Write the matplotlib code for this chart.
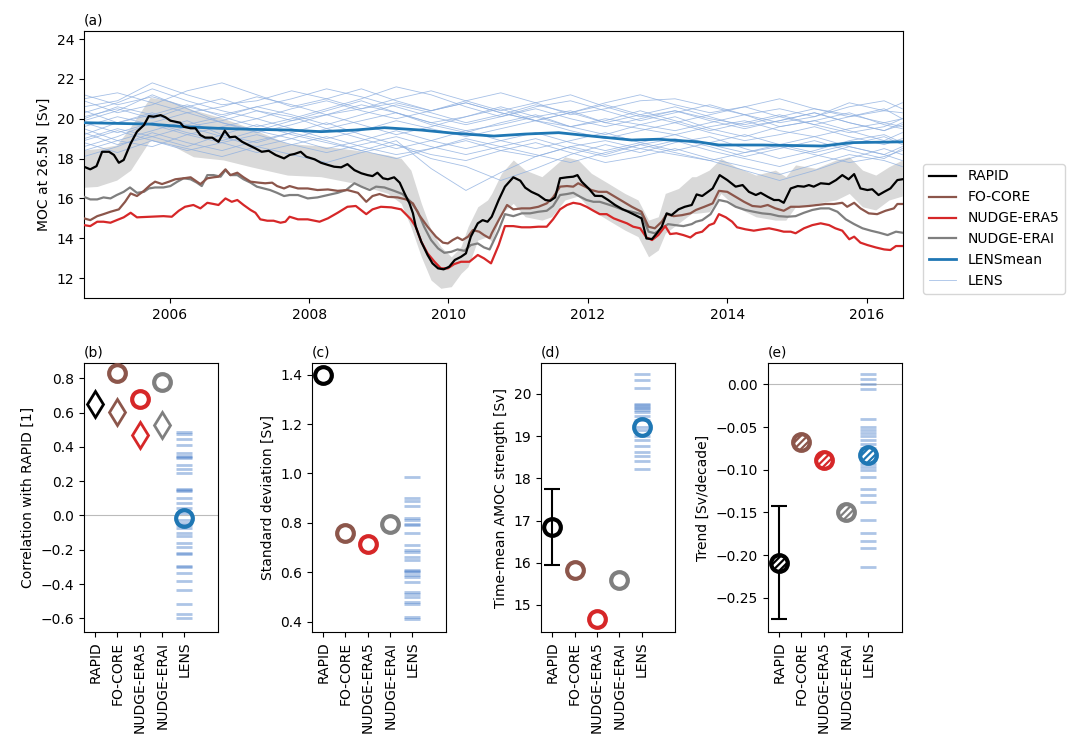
import matplotlib.pyplot as plt

plt.rcParams['font.size'] = 10
plt.rcParams['hatch.linewidth'] = 1.8

# ---------------- (a) time series, decimal years / Sv ----------------
rapid_t = [2004.77, 2004.86, 2004.95, 2005.03, 2005.13, 2005.20, 2005.27, 2005.34, 2005.44, 2005.53,
           2005.63, 2005.70, 2005.77, 2005.87, 2005.94, 2006.01, 2006.08, 2006.15, 2006.20, 2006.30,
           2006.37, 2006.44, 2006.51, 2006.61, 2006.70, 2006.79, 2006.86, 2006.94, 2007.04, 2007.13,
           2007.23, 2007.32, 2007.42, 2007.52, 2007.64, 2007.72, 2007.79, 2007.88, 2007.96, 2008.08,
           2008.17, 2008.27, 2008.36, 2008.46, 2008.55, 2008.65, 2008.75, 2008.84, 2008.91, 2008.98,
           2009.06, 2009.13, 2009.22, 2009.30, 2009.37, 2009.44, 2009.49, 2009.53, 2009.61, 2009.70,
           2009.77, 2009.85, 2009.93, 2010.01, 2010.09, 2010.18, 2010.25, 2010.32, 2010.42, 2010.49,
           2010.56, 2010.62, 2010.72, 2010.81, 2010.93, 2011.03, 2011.10, 2011.19, 2011.29, 2011.39,
           2011.46, 2011.53, 2011.60, 2011.70, 2011.79, 2011.85, 2011.91, 2012.01, 2012.10, 2012.20,
           2012.29, 2012.39, 2012.49, 2012.58, 2012.68, 2012.77, 2012.84, 2012.92, 2012.99, 2013.06,
           2013.13, 2013.20, 2013.30, 2013.39, 2013.49, 2013.56, 2013.64, 2013.79, 2013.89, 2014.00,
           2014.12, 2014.22, 2014.31, 2014.41, 2014.48, 2014.58, 2014.67, 2014.74, 2014.81, 2014.91,
           2015.01, 2015.10, 2015.17, 2015.24, 2015.34, 2015.46, 2015.56, 2015.65, 2015.74, 2015.82,
           2015.91, 2016.01, 2016.08, 2016.17, 2016.25, 2016.34, 2016.44, 2016.51]
rapid_v = [17.59, 17.46, 17.62, 18.34, 18.34, 18.18, 17.79, 17.93, 18.76, 19.35,
           19.68, 20.13, 20.10, 20.18, 20.07, 19.90, 19.85, 19.80, 19.60, 19.52,
           19.52, 19.18, 19.05, 19.05, 18.84, 19.40, 19.07, 19.10, 18.84, 18.68,
           18.51, 18.34, 18.39, 18.18, 18.01, 18.18, 18.23, 18.34, 18.09, 17.96,
           17.79, 17.68, 17.59, 17.56, 17.72, 17.42, 17.26, 17.17, 17.12, 17.29,
           17.01, 16.96, 17.06, 16.79, 16.25, 15.75, 15.25, 14.58, 13.82, 13.16,
           12.74, 12.49, 12.44, 12.57, 12.91, 13.07, 13.24, 14.08, 14.75, 14.91,
           14.83, 15.08, 15.92, 16.59, 17.06, 16.89, 16.54, 16.33, 16.17, 15.92,
           15.88, 16.05, 17.01, 17.06, 17.09, 17.17, 16.84, 16.50, 16.13, 16.12,
           15.92, 15.67, 15.47, 15.33, 15.16, 15.00, 13.99, 13.96, 14.25, 14.58,
           15.25, 15.16, 15.45, 15.58, 15.67, 16.20, 16.12, 16.50, 17.17, 16.92,
           16.59, 16.67, 16.33, 16.17, 16.28, 16.08, 15.92, 15.92, 15.78, 16.50,
           16.62, 16.59, 16.67, 16.59, 16.76, 16.72, 16.92, 17.17, 16.96, 17.22,
           16.50, 16.42, 16.46, 16.17, 16.33, 16.50, 16.92, 16.96]

core_t = [2004.77, 2004.86, 2004.96, 2005.05, 2005.15, 2005.27, 2005.36, 2005.44, 2005.53, 2005.63,
          2005.72, 2005.79, 2005.89, 2005.99, 2006.08, 2006.20, 2006.30, 2006.37, 2006.44, 2006.54,
          2006.63, 2006.70, 2006.80, 2006.87, 2006.97, 2007.06, 2007.16, 2007.28, 2007.37, 2007.47,
          2007.54, 2007.64, 2007.72, 2007.84, 2007.98, 2008.12, 2008.27, 2008.41, 2008.55, 2008.70,
          2008.82, 2008.91, 2009.01, 2009.13, 2009.27, 2009.39, 2009.49, 2009.58, 2009.70, 2009.82,
          2009.92, 2009.99, 2010.06, 2010.13, 2010.20, 2010.28, 2010.35, 2010.44, 2010.51, 2010.59,
          2010.62, 2010.72, 2010.84, 2010.93, 2011.05, 2011.17, 2011.29, 2011.41, 2011.50, 2011.60,
          2011.70, 2011.79, 2011.86, 2011.96, 2012.05, 2012.15, 2012.27, 2012.39, 2012.51, 2012.63,
          2012.77, 2012.87, 2012.96, 2013.06, 2013.13, 2013.23, 2013.35, 2013.47, 2013.55, 2013.67,
          2013.79, 2013.88, 2014.00, 2014.12, 2014.24, 2014.36, 2014.48, 2014.58, 2014.69, 2014.81,
          2014.91, 2015.03, 2015.17, 2015.29, 2015.41, 2015.53, 2015.65, 2015.72, 2015.82, 2015.91,
          2016.03, 2016.15, 2016.27, 2016.39, 2016.44, 2016.51]
core_v = [15.00, 14.91, 15.11, 15.21, 15.33, 15.45, 15.83, 16.25, 16.12, 16.38,
          16.67, 16.84, 16.72, 16.84, 16.96, 17.01, 17.06, 16.89, 16.72, 17.01,
          17.06, 17.09, 17.46, 17.17, 17.29, 17.06, 16.84, 16.79, 16.76, 16.79,
          16.62, 16.50, 16.62, 16.50, 16.50, 16.42, 16.45, 16.38, 16.42, 16.28,
          15.83, 16.12, 16.22, 16.08, 16.05, 15.95, 15.75, 15.16, 14.58, 14.08,
          13.78, 13.74, 13.91, 14.04, 13.91, 14.08, 14.41, 14.33, 14.16, 14.00,
          14.25, 14.91, 15.67, 15.45, 15.50, 15.50, 15.58, 15.75, 16.05, 16.59,
          16.62, 16.59, 16.76, 16.59, 16.42, 16.33, 16.33, 16.08, 15.83, 15.58,
          15.33, 14.58, 14.50, 14.83, 15.21, 15.11, 15.16, 15.25, 15.42, 15.58,
          15.75, 16.38, 16.33, 16.08, 15.83, 15.62, 15.58, 15.67, 15.50, 15.38,
          15.58, 15.58, 15.62, 15.67, 15.72, 15.72, 15.78, 15.58, 15.78, 15.50,
          15.25, 15.21, 15.38, 15.50, 15.72, 15.72]

era5_t = [2004.77, 2004.86, 2004.96, 2005.05, 2005.15, 2005.24, 2005.34, 2005.44, 2005.53, 2005.72,
          2005.91, 2006.03, 2006.13, 2006.22, 2006.34, 2006.44, 2006.54, 2006.63, 2006.70, 2006.80,
          2006.89, 2006.97, 2007.06, 2007.16, 2007.23, 2007.30, 2007.40, 2007.49, 2007.59, 2007.66,
          2007.72, 2007.84, 2007.98, 2008.15, 2008.27, 2008.41, 2008.55, 2008.67, 2008.82, 2008.91,
          2009.03, 2009.18, 2009.32, 2009.46, 2009.53, 2009.61, 2009.70, 2009.80, 2009.89, 2009.99,
          2010.08, 2010.18, 2010.30, 2010.42, 2010.51, 2010.61, 2010.72, 2010.81, 2010.93, 2011.05,
          2011.17, 2011.29, 2011.41, 2011.50, 2011.60, 2011.70, 2011.79, 2011.89, 2011.98, 2012.08,
          2012.17, 2012.27, 2012.37, 2012.46, 2012.56, 2012.65, 2012.75, 2012.84, 2012.92, 2013.01,
          2013.11, 2013.18, 2013.27, 2013.37, 2013.47, 2013.55, 2013.64, 2013.74, 2013.81, 2013.88,
          2013.98, 2014.07, 2014.14, 2014.26, 2014.38, 2014.50, 2014.60, 2014.72, 2014.81, 2014.91,
          2014.98, 2015.10, 2015.22, 2015.34, 2015.46, 2015.55, 2015.65, 2015.75, 2015.82, 2015.91,
          2016.01, 2016.13, 2016.25, 2016.34, 2016.42, 2016.51]
era5_v = [14.66, 14.61, 14.83, 14.83, 14.78, 14.91, 15.05, 15.28, 15.05, 15.08,
          15.11, 15.08, 15.38, 15.58, 15.67, 15.50, 15.78, 15.72, 15.67, 16.00,
          15.83, 15.92, 15.67, 15.42, 15.28, 14.95, 14.88, 14.88, 14.78, 14.83,
          15.08, 14.95, 14.95, 14.83, 15.00, 15.28, 15.58, 15.62, 15.21, 15.45,
          15.58, 15.55, 15.45, 14.95, 14.58, 13.82, 13.24, 12.82, 12.49, 12.49,
          12.70, 12.82, 12.82, 13.16, 12.99, 12.74, 13.66, 14.61, 14.61, 14.55,
          14.55, 14.58, 14.58, 14.95, 15.45, 15.67, 15.78, 15.72, 15.58, 15.38,
          15.21, 15.21, 15.00, 14.88, 14.75, 14.58, 14.50, 14.04, 13.91, 14.16,
          14.61, 14.21, 14.25, 14.16, 14.04, 14.25, 14.33, 14.66, 14.75, 15.21,
          15.05, 14.83, 14.55, 14.45, 14.38, 14.45, 14.50, 14.41, 14.33, 14.33,
          14.25, 14.50, 14.66, 14.75, 14.66, 14.50, 14.38, 13.95, 14.08, 13.78,
          13.66, 13.54, 13.44, 13.41, 13.61, 13.61]

erai_t = [2004.77, 2004.86, 2004.96, 2005.05, 2005.15, 2005.24, 2005.34, 2005.43, 2005.53, 2005.63,
          2005.70, 2005.79, 2005.91, 2006.01, 2006.11, 2006.20, 2006.30, 2006.39, 2006.46, 2006.54,
          2006.63, 2006.73, 2006.80, 2006.87, 2006.97, 2007.06, 2007.16, 2007.25, 2007.35, 2007.44,
          2007.54, 2007.64, 2007.72, 2007.84, 2007.98, 2008.12, 2008.27, 2008.41, 2008.53, 2008.65,
          2008.75, 2008.87, 2008.96, 2009.08, 2009.22, 2009.34, 2009.46, 2009.56, 2009.65, 2009.75,
          2009.85, 2009.94, 2010.04, 2010.13, 2010.23, 2010.32, 2010.42, 2010.51, 2010.59, 2010.62,
          2010.72, 2010.81, 2010.93, 2011.05, 2011.17, 2011.29, 2011.41, 2011.50, 2011.60, 2011.70,
          2011.79, 2011.89, 2011.98, 2012.08, 2012.17, 2012.27, 2012.39, 2012.51, 2012.63, 2012.77,
          2012.87, 2012.96, 2013.06, 2013.15, 2013.25, 2013.37, 2013.49, 2013.55, 2013.64, 2013.76,
          2013.88, 2014.00, 2014.12, 2014.26, 2014.38, 2014.50, 2014.62, 2014.74, 2014.86, 2014.98,
          2015.10, 2015.22, 2015.34, 2015.46, 2015.58, 2015.70, 2015.82, 2015.94, 2016.06, 2016.18,
          2016.30, 2016.42, 2016.51]
erai_v = [16.08, 15.95, 15.95, 16.05, 16.00, 16.17, 16.33, 16.55, 16.28, 16.33,
          16.50, 16.55, 16.55, 16.62, 16.84, 17.01, 16.96, 16.79, 16.62, 17.17,
          17.17, 17.09, 17.42, 17.17, 17.17, 16.96, 16.79, 16.59, 16.50, 16.42,
          16.28, 16.12, 16.17, 16.17, 16.00, 16.05, 16.17, 16.28, 16.42, 16.76,
          16.59, 16.42, 16.59, 16.55, 16.38, 16.22, 15.83, 15.33, 14.58, 13.91,
          13.49, 13.27, 13.32, 13.44, 13.37, 13.66, 13.74, 13.54, 13.44, 13.66,
          14.41, 15.21, 15.11, 15.25, 15.25, 15.33, 15.38, 15.62, 16.17, 16.22,
          16.28, 16.08, 15.92, 15.83, 15.83, 15.72, 15.58, 15.42, 15.33, 15.21,
          14.33, 14.25, 14.50, 14.71, 14.66, 14.61, 14.71, 14.83, 14.91, 15.21,
          15.92, 15.83, 15.58, 15.42, 15.33, 15.25, 15.21, 15.11, 15.08, 15.11,
          15.28, 15.42, 15.50, 15.50, 15.33, 14.95, 14.71, 14.50, 14.38, 14.28,
          14.16, 14.33, 14.28]

# RAPID uncertainty envelope
band_t = [2004.77, 2004.96, 2005.24, 2005.44, 2005.72, 2006.01, 2006.34, 2006.77, 2007.16, 2007.69,
          2008.17, 2008.65, 2009.13, 2009.32, 2009.46, 2009.61, 2009.75, 2009.89, 2010.04, 2010.18,
          2010.28, 2010.42, 2010.56, 2010.62, 2010.76, 2010.93, 2011.10, 2011.34, 2011.48, 2011.67,
          2011.86, 2012.05, 2012.29, 2012.53, 2012.72, 2012.87, 2013.01, 2013.11, 2013.30, 2013.49,
          2013.55, 2013.74, 2013.91, 2014.12, 2014.41, 2014.69, 2014.84, 2014.98, 2015.27, 2015.56,
          2015.75, 2015.94, 2016.13, 2016.32, 2016.51]
band_hi = [18.43, 18.50, 18.68, 19.60, 21.07, 20.90, 20.44, 20.02, 19.52, 18.76,
           18.63, 18.43, 18.18, 18.01, 17.42, 15.75, 14.41, 13.58, 13.07, 13.58,
           14.58, 15.58, 15.92, 16.25, 17.26, 17.93, 17.42, 17.09, 17.51, 18.09,
           17.93, 17.26, 16.76, 16.25, 15.92, 14.91, 15.08, 16.25, 16.50, 17.09,
           17.09, 17.42, 18.01, 17.59, 17.17, 17.42, 17.09, 17.68, 17.51, 17.93,
           18.09, 17.42, 17.17, 17.59, 17.93]
band_lo = [16.56, 16.60, 16.92, 17.42, 18.93, 18.70, 18.09, 17.93, 17.59, 17.17,
           17.09, 16.76, 16.25, 15.75, 14.58, 13.07, 11.90, 11.49, 11.57, 12.24,
           12.57, 13.91, 14.08, 13.82, 15.25, 15.75, 15.08, 14.91, 15.08, 15.92,
           16.12, 15.42, 14.91, 14.41, 14.08, 13.07, 13.41, 14.25, 14.75, 15.25,
           15.25, 15.33, 16.25, 15.58, 15.08, 14.91, 14.91, 15.58, 15.75, 15.92,
           16.25, 15.58, 15.42, 15.92, 16.12]

lensmean_t = [2004.77, 2005.72, 2006.20, 2006.68, 2007.16, 2007.72, 2008.17, 2008.65, 2009.08, 2009.61,
              2010.08, 2010.65, 2011.10, 2011.58, 2012.05, 2012.63, 2013.01, 2013.58, 2013.88, 2014.50,
              2015.36, 2015.79, 2016.51]
lensmean_v = [19.80, 19.73, 19.60, 19.52, 19.47, 19.43, 19.35, 19.43, 19.55, 19.43,
              19.27, 19.13, 19.23, 19.30, 19.13, 18.93, 18.97, 18.84, 18.68, 18.68,
              18.63, 18.80, 18.84]

# individual LENS members (approximate, half-yearly)
lens_t = [2004.77, 2005.25, 2005.75, 2006.25, 2006.75, 2007.25, 2007.75, 2008.25, 2008.75, 2009.25,
          2009.75, 2010.25, 2010.75, 2011.25, 2011.75, 2012.25, 2012.75, 2013.25, 2013.75, 2014.25,
          2014.75, 2015.25, 2015.75, 2016.25, 2016.51]
lens_runs = [
    [20.6, 20.9, 21.8, 21.2, 20.7, 20.9, 21.4, 21.0, 20.5, 20.8, 20.4, 20.9, 21.3, 20.8, 20.2, 20.5, 20.9, 21.0, 20.6, 20.2, 20.5, 20.1, 20.8, 20.4, 20.3],
    [19.2, 19.8, 20.3, 19.6, 19.9, 20.4, 20.1, 19.5, 19.9, 20.3, 19.8, 19.4, 19.7, 20.1, 20.4, 19.8, 19.5, 19.2, 19.6, 19.9, 19.4, 19.1, 19.5, 19.8, 19.6],
    [18.4, 18.9, 18.6, 19.2, 18.8, 18.3, 18.7, 19.1, 18.6, 18.2, 18.5, 18.9, 18.4, 18.1, 18.6, 18.9, 18.5, 18.2, 17.9, 18.3, 18.6, 18.2, 17.8, 18.1, 18.4],
    [20.1, 20.5, 20.0, 20.6, 21.0, 20.4, 19.9, 20.2, 20.7, 20.3, 19.8, 20.1, 20.5, 19.9, 19.6, 20.0, 19.7, 19.4, 19.8, 20.2, 19.6, 19.9, 20.3, 19.7, 19.5],
    [19.5, 18.9, 19.4, 19.9, 19.2, 18.8, 19.3, 19.8, 19.2, 18.7, 18.0, 17.6, 16.9, 17.5, 18.2, 18.7, 18.3, 18.8, 19.1, 18.5, 18.0, 18.4, 18.9, 19.2, 18.8],
    [21.0, 21.3, 20.8, 20.3, 20.6, 21.1, 20.7, 20.2, 20.5, 21.0, 21.4, 20.9, 20.4, 20.8, 21.2, 20.6, 20.1, 20.4, 20.0, 19.7, 20.1, 20.5, 20.2, 19.8, 20.0],
    [18.8, 18.3, 18.9, 18.5, 18.1, 18.6, 18.2, 17.8, 18.3, 18.7, 18.2, 17.9, 18.4, 18.8, 18.3, 17.8, 18.1, 18.5, 18.0, 17.6, 17.2, 17.7, 18.2, 17.9, 17.6],
    [19.9, 20.4, 21.2, 20.5, 19.8, 19.4, 19.9, 20.4, 20.9, 20.3, 19.7, 19.3, 19.8, 20.2, 19.6, 19.2, 19.7, 20.1, 19.5, 19.1, 19.6, 19.9, 19.4, 18.9, 19.3],
    [19.0, 19.5, 19.1, 18.6, 19.2, 19.7, 19.2, 18.8, 18.4, 18.9, 17.5, 16.4, 17.3, 18.1, 18.6, 18.2, 18.7, 19.0, 18.6, 18.1, 18.5, 18.9, 18.4, 18.0, 18.5],
    [20.4, 19.8, 20.2, 20.7, 20.1, 19.6, 20.0, 20.5, 21.0, 21.6, 21.2, 20.6, 20.1, 20.6, 20.9, 20.4, 19.9, 20.3, 20.7, 20.2, 19.8, 20.1, 20.6, 20.9, 20.5],
    [18.1, 18.6, 19.3, 18.8, 18.4, 18.9, 19.3, 18.9, 18.4, 18.0, 18.5, 19.0, 18.6, 18.2, 17.8, 18.3, 18.7, 18.3, 17.9, 17.4, 16.9, 17.4, 18.0, 18.5, 18.2],
    [20.9, 20.3, 20.7, 21.4, 21.8, 21.2, 20.6, 21.0, 21.5, 20.9, 20.4, 20.8, 20.3, 19.9, 20.3, 20.8, 21.2, 20.7, 20.3, 20.6, 21.0, 20.5, 20.1, 20.4, 20.8],
    [19.6, 20.1, 19.7, 19.2, 19.6, 20.0, 19.5, 19.0, 19.4, 19.9, 19.5, 19.1, 19.5, 19.9, 19.4, 19.0, 19.4, 19.8, 19.3, 18.9, 19.2, 19.6, 19.1, 18.7, 19.0],
    [18.6, 19.1, 19.8, 19.3, 18.9, 19.4, 19.0, 18.5, 18.9, 19.4, 18.9, 18.5, 18.9, 19.3, 18.8, 18.4, 18.8, 19.2, 18.7, 18.3, 18.7, 19.1, 18.6, 18.2, 18.6],
    [20.3, 20.8, 21.5, 20.9, 20.4, 20.0, 20.5, 20.9, 20.4, 20.0, 20.4, 20.8, 20.3, 19.9, 20.3, 20.7, 20.2, 19.8, 20.2, 20.6, 20.1, 19.7, 20.1, 20.5, 20.0],
    [19.3, 18.7, 19.1, 19.6, 19.1, 18.6, 19.0, 19.5, 19.0, 18.5, 18.9, 19.4, 18.9, 18.5, 18.9, 19.3, 18.8, 18.4, 18.8, 19.2, 18.7, 18.3, 18.7, 19.1, 18.7],
    [21.2, 20.7, 21.1, 20.6, 20.2, 20.6, 21.0, 21.5, 21.1, 20.6, 20.1, 19.7, 20.1, 20.5, 20.0, 19.6, 20.0, 20.4, 19.9, 19.5, 19.9, 20.3, 19.8, 19.4, 19.8],
    [18.9, 19.4, 18.9, 18.4, 18.8, 19.2, 18.7, 18.3, 18.7, 19.1, 18.6, 18.2, 18.6, 19.0, 18.5, 18.1, 18.5, 18.9, 18.4, 18.0, 17.6, 18.1, 18.6, 18.2, 17.9],
    [19.8, 19.3, 19.8, 20.3, 19.8, 19.3, 19.7, 20.2, 19.7, 19.2, 19.6, 20.1, 20.6, 20.1, 19.6, 19.9, 20.4, 19.9, 19.4, 19.8, 20.2, 19.7, 19.3, 19.6, 20.0],
    [20.0, 20.6, 20.2, 19.7, 20.1, 20.6, 20.2, 19.7, 20.2, 20.7, 20.3, 19.8, 20.2, 20.7, 20.3, 19.8, 20.2, 20.6, 20.1, 19.6, 19.9, 20.3, 19.8, 19.4, 19.7],
]

# ---------------- (b)-(e) summary statistics ----------------
names = ['RAPID', 'FO-CORE', 'NUDGE-ERA5', 'NUDGE-ERAI', 'LENS']
colors = ['black', 'tab:brown', 'tab:red', 'tab:gray', 'tab:blue']

corr_circle = [0.830, 0.679, 0.780, -0.013]      # FO-CORE .. LENS
corr_diamond = [0.648, 0.604, 0.469, 0.526]      # RAPID .. NUDGE-ERAI
lens_corr = [0.487, 0.473, 0.444, 0.414, 0.365, 0.350, 0.340, 0.336, 0.297, 0.271, 0.248, 0.154,
             0.150, 0.144, 0.101, 0.072, 0.042, 0.017, -0.026, -0.042, -0.056, -0.075, -0.101,
             -0.120, -0.159, -0.183, -0.218, -0.222, -0.297, -0.300, -0.336, -0.383, -0.437,
             -0.516, -0.575, -0.600]

std_vals = [1.40, 0.760, 0.713, 0.795]
lens_std = [0.985, 0.900, 0.890, 0.870, 0.820, 0.810, 0.795, 0.790, 0.760, 0.710, 0.690, 0.680,
            0.660, 0.650, 0.610, 0.605, 0.600, 0.590, 0.580, 0.560, 0.520, 0.510, 0.500, 0.480,
            0.470, 0.420, 0.410]

mean_vals = [16.84, 15.83, 14.66, 15.58, 19.21]
rapid_mean_err = 0.90
lens_avg = [20.47, 20.32, 20.15, 19.76, 19.73, 19.70, 19.66, 19.62, 19.58, 19.48, 19.38, 19.21,
            19.15, 18.99, 18.91, 18.77, 18.63, 18.52, 18.42, 18.21]

trend_vals = [-0.209, -0.067, -0.089, -0.150, -0.083]
rapid_trend_err = 0.066
lens_trend = [0.012, 0.006, 0.000, -0.006, -0.041, -0.050, -0.054, -0.057, -0.061, -0.065, -0.070,
              -0.074, -0.079, -0.087, -0.093, -0.097, -0.100, -0.108, -0.122, -0.130, -0.138,
              -0.159, -0.174, -0.184, -0.192, -0.214]

fig = plt.figure(figsize=(10.78, 7.41), dpi=100)

# (a)
ax = fig.add_axes([0.0779, 0.5978, 0.7597, 0.3603])
ax.fill_between(band_t, band_lo, band_hi, color='#d9d9d9', lw=0, zorder=1)
for k, run in enumerate(lens_runs):
    h_lens, = ax.plot(lens_t, run, color='#8fb0e0', lw=0.6, alpha=0.8, zorder=2,
                      label='LENS' if k == 0 else None)
h_mean, = ax.plot(lensmean_t, lensmean_v, color='tab:blue', lw=2, zorder=3)
h_erai, = ax.plot(erai_t, erai_v, color='tab:gray', lw=1.6, zorder=4)
h_era5, = ax.plot(era5_t, era5_v, color='tab:red', lw=1.6, zorder=4)
h_core, = ax.plot(core_t, core_v, color='tab:brown', lw=1.6, zorder=4)
h_rapid, = ax.plot(rapid_t, rapid_v, color='black', lw=1.6, zorder=5)
ax.set_xlim(2004.77, 2016.52)
ax.set_ylim(11, 24.4)
ax.set_yticks(range(12, 25, 2))
year_ticks = [2006, 2008, 2010, 2012, 2014, 2016]
ax.set_xticks(year_ticks, [str(y) for y in year_ticks])
ax.set_ylabel('MOC at 26.5N  [Sv]')
ax.set_title('(a)', loc='left', fontsize=10, pad=5)
ax.legend([h_rapid, h_core, h_era5, h_erai, h_mean, h_lens],
          ['RAPID', 'FO-CORE', 'NUDGE-ERA5', 'NUDGE-ERAI', 'LENSmean', 'LENS'],
          loc='lower left', bbox_to_anchor=(1.016, -0.01), fontsize=10)

# (b)-(e)
xpos = [0, 1, 2, 3, 4]
lefts = [0.0779, 0.2894, 0.5019, 0.7124]
axb, axc, axd, axe = [fig.add_axes([l, 0.1471, 0.1243, 0.363]) for l in lefts]
tick_kw = dict(marker='_', ls='none', ms=11, mew=2, color='#4a7fc9', alpha=0.45, zorder=1)
ring_kw = dict(marker='o', ls='none', mfc='none', ms=12, mew=3, zorder=4)

axb.axhline(0, color='#bbbbbb', lw=0.8, zorder=0)
axb.plot([4] * len(lens_corr), lens_corr, **tick_kw)
for i in range(4):
    axb.plot(i, corr_diamond[i], 'd', mfc='none', mec=colors[i], ms=13, mew=2, zorder=3)
for i in range(1, 5):
    axb.plot(i, corr_circle[i - 1], mec=colors[i], **ring_kw)
axb.set_ylim(-0.68, 0.89)
axb.set_ylabel('Correlation with RAPID [1]')
axb.set_title('(b)', loc='left', fontsize=10, pad=5)

axc.plot([4] * len(lens_std), lens_std, **tick_kw)
for i in range(4):
    axc.plot(i, std_vals[i], mec=colors[i], **ring_kw)
axc.set_ylim(0.358, 1.447)
axc.set_ylabel('Standard deviation [Sv]')
axc.set_title('(c)', loc='left', fontsize=10, pad=5)

axd.plot([4] * len(lens_avg), lens_avg, **tick_kw)
axd.errorbar(0, mean_vals[0], yerr=rapid_mean_err, color='black', capsize=6, lw=1.5,
             capthick=1.5, zorder=2)
for i in range(5):
    axd.plot(i, mean_vals[i], mec=colors[i], **ring_kw)
axd.set_ylim(14.36, 20.73)
axd.set_ylabel('Time-mean AMOC strength [Sv]')
axd.set_title('(d)', loc='left', fontsize=10, pad=5)

axe.axhline(0, color='#bbbbbb', lw=0.8, zorder=0)
axe.plot([4] * len(lens_trend), lens_trend, **tick_kw)
axe.errorbar(0, trend_vals[0], yerr=rapid_trend_err, color='black', capsize=6, lw=1.5,
             capthick=1.5, zorder=2)
for i in range(5):
    axe.scatter(i, trend_vals[i], s=160, facecolors=colors[i], edgecolors='white',
                hatch='/////', linewidths=0, zorder=3)
    axe.plot(i, trend_vals[i], mec=colors[i], **ring_kw)
axe.set_ylim(-0.29, 0.025)
axe.set_ylabel('Trend [Sv/decade]')
axe.set_title('(e)', loc='left', fontsize=10, pad=5)

for a in (axb, axc, axd, axe):
    a.set_xlim(-0.5, 5.5)
    a.set_xticks(xpos, names, rotation=90)

fig.savefig('out.png', dpi=100)
